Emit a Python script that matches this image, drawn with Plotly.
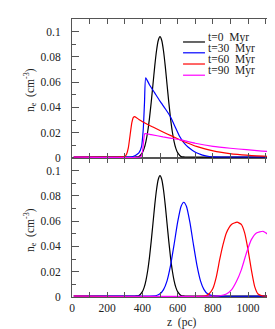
import plotly.graph_objects as go

# ---------------- data ----------------
labels = ["t=0\u00a0 Myr", "t=30\u00a0 Myr", "t=60\u00a0 Myr", "t=90\u00a0 Myr"]
colors = ["#000000", "#0000ff", "#ff0000", "#ff00ff"]

# t = 0 Myr (same profile in both panels)
z_t0 = [10, 300, 360, 380, 400, 410, 420, 430, 440, 450, 460, 470, 480, 490, 500,
        510, 520, 530, 540, 550, 560, 570, 580, 590, 600, 620, 640, 1200]
ne_t0 = [0.0008, 0.0008, 0.0008, 0.0011, 0.0042, 0.0076, 0.0130, 0.0208, 0.0312, 0.0440,
         0.0582, 0.0725, 0.0847, 0.0930, 0.0960, 0.0930, 0.0847, 0.0725, 0.0582, 0.0440,
         0.0312, 0.0208, 0.0130, 0.0076, 0.0042, 0.0011, 0.0008, 0.0008]

# upper panel
z_top_30 = [10, 340, 360, 380, 395, 405, 412, 419, 440, 470, 500, 530, 558, 585, 612,
            635, 659, 685, 707, 730, 754, 780, 802, 850, 1200]
ne_top_30 = [0.0008, 0.001, 0.002, 0.004, 0.009, 0.023, 0.044, 0.0634, 0.058, 0.0515,
             0.045, 0.039, 0.033, 0.025, 0.017, 0.0122, 0.0087, 0.006, 0.0042, 0.0029,
             0.0019, 0.0012, 0.0009, 0.0008, 0.0008]

z_top_60 = [10, 290, 300, 310, 320, 330, 340, 348, 356, 380, 403, 460, 517, 565, 612,
            660, 707, 755, 802, 850, 896, 940, 991, 1050, 1124, 1200]
ne_top_60 = [0.0008, 0.0009, 0.0012, 0.003, 0.008, 0.018, 0.028, 0.032, 0.0328, 0.0305,
             0.0285, 0.0245, 0.0206, 0.0175, 0.0145, 0.0117, 0.0092, 0.0072, 0.0057,
             0.0045, 0.0035, 0.0028, 0.0022, 0.0017, 0.0012, 0.001]

z_top_90 = [10, 390, 398, 403, 408, 413, 420, 450, 517, 565, 612, 700, 801, 900, 991,
            1080, 1160, 1200]
ne_top_90 = [0.0008, 0.001, 0.003, 0.008, 0.015, 0.0192, 0.0193, 0.0185, 0.0167, 0.0156,
             0.0145, 0.0117, 0.0092, 0.0077, 0.0066, 0.0055, 0.0046, 0.0043]

# lower panel
z_bot_30 = [10, 480, 500, 520, 540, 560, 580, 600, 620, 635, 650, 670, 690, 710, 730,
            750, 770, 800, 1200]
ne_bot_30 = [0.0008, 0.0012, 0.0025, 0.0058, 0.0128, 0.025, 0.0415, 0.059, 0.0718, 0.075,
             0.0718, 0.059, 0.0415, 0.025, 0.0128, 0.0058, 0.0025, 0.001, 0.0008]

z_bot_60 = [10, 760, 782, 801, 820, 839, 858, 877, 906, 938, 962, 981, 1000, 1019, 1038,
            1057, 1085, 1200]
ne_bot_60 = [0.0008, 0.001, 0.003, 0.007, 0.016, 0.0295, 0.0414, 0.0507, 0.0574, 0.0592,
             0.0574, 0.0507, 0.0375, 0.0215, 0.0082, 0.0024, 0.0008, 0.0008]

z_bot_90 = [10, 839, 877, 906, 934, 962, 991, 1019, 1048, 1085, 1114, 1133, 1152, 1170, 1200]
ne_bot_90 = [0.0008, 0.001, 0.0024, 0.0056, 0.0122, 0.0215, 0.0348, 0.0454, 0.0507, 0.052,
             0.0494, 0.0428, 0.032, 0.024, 0.013]

x_tickvals = [0, 100, 200, 300, 400, 500, 600, 700, 800, 900, 1000, 1100]
x_ticktext = ["0", "", "200", "", "400", "", "600", "", "800", "", "1000", ""]
y_tickvals = [0, 0.02, 0.04, 0.06, 0.08, 0.1]
y_ticktext = ["0", "0.02", "0.04", "0.06", "0.08", "0.1"]

# ---------------- figure ----------------
FONT = "Liberation Serif, Times New Roman, serif"
FS = 11.5
TXT = "#222222"
FRAME = "#555555"

fig = go.Figure()
top = [(z_t0, ne_t0), (z_top_30, ne_top_30), (z_top_60, ne_top_60), (z_top_90, ne_top_90)]
bot = [(z_t0, ne_t0), (z_bot_30, ne_bot_30), (z_bot_60, ne_bot_60), (z_bot_90, ne_bot_90)]
for i, (zz, vv) in enumerate(top):
    fig.add_trace(go.Scatter(x=zz, y=vv, mode="lines", xaxis="x2", yaxis="y",
                             line=dict(color=colors[i], width=1.2, shape="spline", smoothing=0.5),
                             showlegend=False, hoverinfo="skip"))
for i, (zz, vv) in enumerate(bot):
    fig.add_trace(go.Scatter(x=zz, y=vv, mode="lines", xaxis="x", yaxis="y2",
                             line=dict(color=colors[i], width=1.2, shape="spline", smoothing=0.5),
                             showlegend=False, hoverinfo="skip"))

xcommon = dict(range=[0, 1153.4], tickmode="array", tickvals=x_tickvals, ticktext=x_ticktext,
               ticks="inside", ticklen=5, tickcolor=FRAME, tickwidth=1,
               showline=True, linecolor=FRAME, linewidth=1, mirror="ticks",
               showgrid=False, zeroline=False, automargin=False,
               tickfont=dict(family=FONT, size=FS, color=TXT))
ycommon = dict(range=[0, 0.11], tickmode="array", tickvals=y_tickvals, ticktext=y_ticktext,
               ticks="inside", ticklen=7, tickcolor=FRAME, tickwidth=1,
               minor=dict(dtick=0.01, tick0=0, ticks="inside", ticklen=4, tickcolor=FRAME,
                          showgrid=False),
               showline=True, linecolor=FRAME, linewidth=1, mirror=False,
               showgrid=False, zeroline=False, ticklabelstandoff=8, automargin=False,
               tickfont=dict(family=FONT, size=FS, color=TXT))

# page body has an 8 px default margin, so the figure is 8 px smaller than the window
fig.update_layout(
    width=267, height=321,
    margin=dict(l=64, r=0, t=11, b=32),
    paper_bgcolor="white", plot_bgcolor="white",
    xaxis=dict(domain=[0, 1], anchor="y2", ticklabelstandoff=0, **xcommon),
    xaxis2=dict(domain=[0, 1], anchor="y", matches="x", showticklabels=False, **xcommon),
    yaxis=dict(domain=[0.5, 1], anchor="x2", **ycommon),
    yaxis2=dict(domain=[0, 0.5], anchor="x", **ycommon),
    font=dict(family=FONT, size=FS, color=TXT),
)

ann = []
ytitle = "n<sub>e</sub>\u00a0 (cm<sup>-3</sup>)"
for yc in (0.7446, 0.241):
    ann.append(dict(text=ytitle, xref="paper", yref="paper", x=-0.2069, y=yc,
                    textangle=-90, showarrow=False, xanchor="center", yanchor="middle",
                    font=dict(family=FONT, size=FS, color=TXT)))
ann.append(dict(text="z\u00a0 (pc)", xref="paper", yref="paper", x=0.5419, y=-0.0935,
                showarrow=False, xanchor="center", yanchor="middle",
                font=dict(family=FONT, size=FS, color=TXT)))
ann.append(dict(text="1200", xref="paper", yref="paper", x=1.0419, y=-0.0396,
                showarrow=False, xanchor="center", yanchor="middle",
                font=dict(family=FONT, size=FS, color=TXT)))

line_y = [0.9173, 0.8784, 0.8381, 0.7978]
text_y = [0.9327, 0.8939, 0.8536, 0.8133]
shapes = []
for i in range(4):
    shapes.append(dict(type="line", xref="paper", yref="paper", x0=0.547, x1=0.655,
                       y0=line_y[i], y1=line_y[i], line=dict(color=colors[i], width=1.2)))
    ann.append(dict(text=labels[i], xref="paper", yref="paper", x=0.660, y=text_y[i],
                    showarrow=False, xanchor="left", yanchor="middle",
                    font=dict(family=FONT, size=FS, color=TXT)))
fig.update_layout(annotations=ann, shapes=shapes)

fig.write_html("out.html")
